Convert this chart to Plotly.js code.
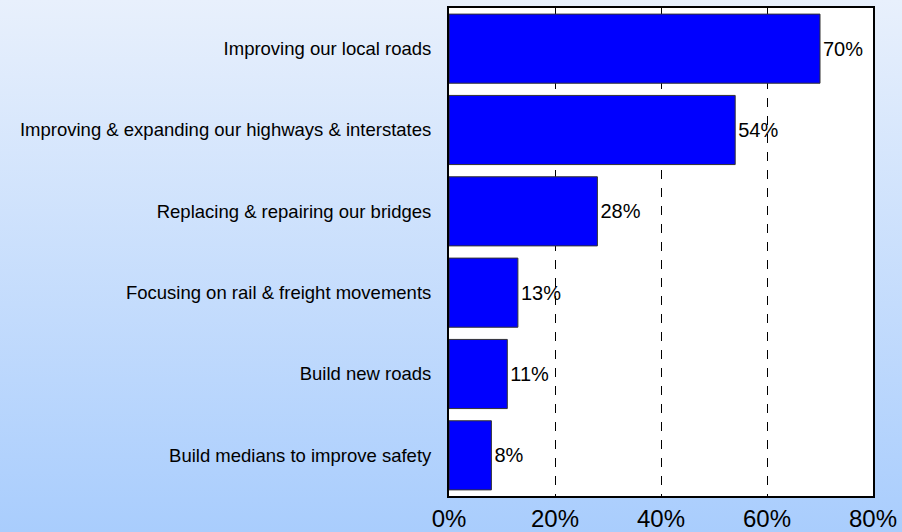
<!DOCTYPE html>
<html>
<head>
<meta charset="utf-8">
<script src="https://cdn.plot.ly/plotly-3.0.1.min.js"></script>
<style>
  html, body { margin: 0; padding: 0; }
  body { width: 902px; height: 532px; background: linear-gradient(to bottom, #e8f0fc 0%, #a9cdfd 100%); }
  #chart { width: 902px; height: 532px; }
</style>
</head>
<body>
<div id="chart"></div>
<script>
var categories = [
  'Improving our local roads',
  'Improving & expanding our highways & interstates',
  'Replacing & repairing our bridges',
  'Focusing on rail & freight movements',
  'Build new roads',
  'Build medians to improve safety'
];
var values = [70, 54, 28, 13, 11, 8];
var tickVals = [0, 20, 40, 60, 80];
var tickText = ['0%', '20%', '40%', '60%', '80%'];

var trace = {
  type: 'bar',
  orientation: 'h',
  y: categories,
  x: values,
  text: values.map(function (v) { return v + '%'; }),
  textposition: 'outside',
  cliponaxis: false,
  textfont: { family: 'Liberation Sans, Arial, sans-serif', size: 20, color: '#000' },
  marker: { color: '#0000ff', line: { color: '#333333', width: 1 } },
  hoverinfo: 'none'
};

var layout = {
  width: 902,
  height: 532,
  margin: { l: 449, r: 29, t: 8, b: 36 },
  paper_bgcolor: 'rgba(0,0,0,0)',
  plot_bgcolor: '#ffffff',
  bargap: 0.15,
  showlegend: false,
  font: { family: 'Liberation Sans, Arial, sans-serif', color: '#000' },
  xaxis: {
    range: [0, 80],
    tickvals: tickVals,
    ticktext: tickText,
    tickfont: { size: 24 },
    showgrid: true,
    gridcolor: '#000000',
    griddash: 'dash',
    gridwidth: 1,
    zeroline: false,
    showline: true,
    linecolor: '#000',
    linewidth: 2,
    mirror: true,
    ticks: '',
    ticklen: 0
  },
  yaxis: {
    autorange: 'reversed',
    tickfont: { size: 18.5 },
    showgrid: false,
    zeroline: false,
    showline: true,
    linecolor: '#000',
    linewidth: 2,
    mirror: true,
    ticks: 'outside',
    ticklen: 12,
    tickcolor: 'rgba(0,0,0,0)'
  }
};

Plotly.newPlot('chart', [trace], layout, { staticPlot: true });
</script>
</body>
</html>
